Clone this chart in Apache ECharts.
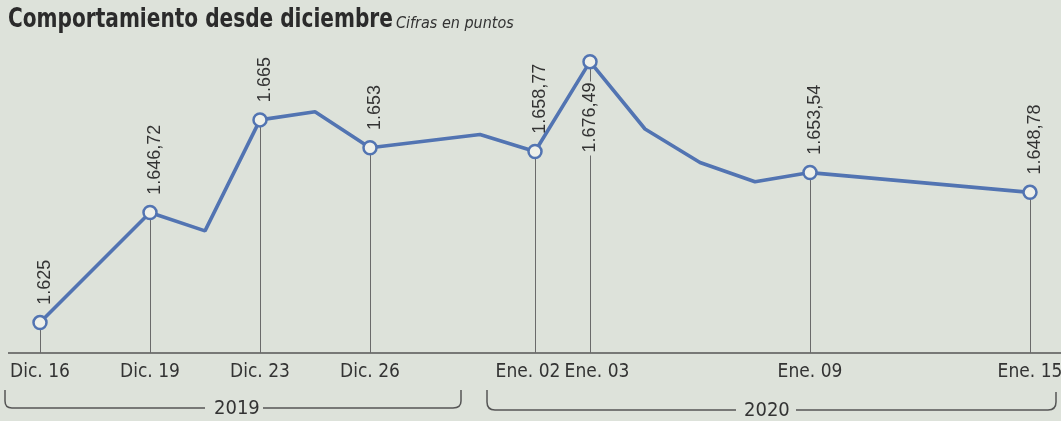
<!DOCTYPE html>
<html>
<head>
<meta charset="utf-8">
<script src="https://cdn.jsdelivr.net/npm/echarts@6/dist/echarts.min.js"></script>
<style>
html,body{margin:0;padding:0;background:#dde2da;}
#c{width:1061px;height:421px;}
</style>
</head>
<body>
<div id="c"></div>
<script>
// Trading-day slots (only some are labelled on the axis)
const categories = ['Dic. 16','Dic. 18','Dic. 19','Dic. 20','Dic. 23','Dic. 24','Dic. 26','Dic. 27','Dic. 30',
  'Ene. 02','Ene. 03','Ene. 06','Ene. 07','Ene. 08','Ene. 09','Ene. 10','Ene. 13','Ene. 14','Ene. 15'];
const axisTickLabels = ['Dic. 16','Dic. 19','Dic. 23','Dic. 26','Ene. 02','Ene. 03','Ene. 09','Ene. 15'];
// Plotted values (points), null where the chart shows no distinct point
const values = [1.625, null, 1.64672, 1.6431, 1.665, 1.6666, 1.6595, null, 1.6621,
  1.65877, 1.67649, 1.6632, 1.6566, 1.6528, 1.6546, null, null, null, 1.6507];
// Printed value labels
const pointLabels = ['1.625', '', '1.646,72', '', '1.665', '', '1.653', '', '',
  '1.658,77', '1.676,49', '', '', '', '1.653,54', '', '', '', '1.648,78'];
const years = ['2019', '2020'];
const titleText = 'Comportamiento desde diciembre';
const subtitleText = 'Cifras en puntos';

const BG = '#dde2da';
const BLUE = '#5274b2';
const TXT = '#333333';
const NARROW = "'Liberation Sans Narrow','DejaVu Sans Condensed','Arial Narrow',sans-serif";
const YMIN = 1.619, YMAX = 1.678;

const seriesData = values.map((v, i) => {
  const lab = pointLabels[i];
  const item = { value: v };
  if (!lab) { item.symbol = 'none'; item.label = { show: false }; }
  else if (lab === '1.676,49') {
    item.label = { show: true, formatter: lab, position: 'bottom', rotate: 90, align: 'right',
      verticalAlign: 'middle', distance: 12, offset: [0, 0], backgroundColor: BG, padding: [0, 1, 0, 3] };
  } else {
    item.label = { show: true, formatter: lab };
  }
  return item;
});

const dropLines = [];
values.forEach((v, i) => {
  if (pointLabels[i] && v != null) {
    dropLines.push([{ coord: [i, v] }, { coord: [i, YMIN] }]);
  }
});

const LS = { stroke: '#555', lineWidth: 1.5 };
function seg(x1, y1, x2, y2) { return { type: 'line', silent: true, shape: { x1, y1, x2, y2 }, style: LS }; }
function curve(x1, y1, cx, cy, x2, y2) {
  return { type: 'bezierCurve', silent: true, shape: { x1, y1, x2, y2, cpx1: cx, cpy1: cy }, style: Object.assign({ fill: null }, LS) };
}

const chart = echarts.init(document.getElementById('c'), null, { renderer: 'canvas' });
chart.setOption({
  backgroundColor: BG,
  animation: false,
  grid: { left: 40, right: 31, top: 54, bottom: 68, containLabel: false, outerBoundsMode: 'none' },
  xAxis: {
    type: 'category', data: categories, boundaryGap: false,
    axisLine: { show: false }, axisTick: { show: false }, splitLine: { show: false },
    axisLabel: {
      interval: (idx, val) => axisTickLabels.indexOf(val) >= 0,
      hideOverlap: false,
      formatter: (val) => val === 'Ene. 02' ? '{l|' + val + '}' : (val === 'Ene. 03' ? '{r|' + val + '}' : val),
      rich: {
        l: { fontFamily: NARROW, fontSize: 19, color: TXT, padding: [0, 14, 0, 0] },
        r: { fontFamily: NARROW, fontSize: 19, color: TXT, padding: [0, 0, 0, 14] }
      },
      fontFamily: NARROW, fontSize: 19, color: TXT, margin: 10
    }
  },
  yAxis: {
    type: 'value', min: YMIN, max: YMAX, show: false, splitLine: { show: false }
  },
  series: [{
    type: 'line', data: seriesData, connectNulls: true,
    symbol: 'circle', symbolSize: 13,
    lineStyle: { color: BLUE, width: 3.6 },
    itemStyle: { color: '#eef0ea', borderColor: BLUE, borderWidth: 2.5 },
    label: {
      show: true, position: 'top', rotate: 90, align: 'left', verticalAlign: 'middle',
      distance: 10, offset: [0, 5],
      fontFamily: "'Liberation Sans',Arial,sans-serif", fontSize: 18, color: TXT
    },
    markLine: {
      silent: true, symbol: 'none', z: 1,
      lineStyle: { color: '#6a6a6a', width: 1, type: 'solid' },
      label: { show: false },
      data: dropLines
    },
    z: 5
  }],
  graphic: [
    { type: 'text', x: 8, y: 7, scaleX: 0.86, style: { text: titleText, font: "bold 26px " + NARROW, fill: '#2b2b2b' } },
    { type: 'text', x: 396, y: 16, style: { text: subtitleText, font: "italic 16px " + NARROW, fill: '#333' } },
    seg(8, 353, 1061, 353),
    seg(5, 390, 5, 401), curve(5, 401, 5, 408, 12, 408), seg(12, 408, 205, 408), seg(263, 408, 453, 408),
    curve(453, 408, 461, 408, 461, 401), seg(461, 401, 461, 390),
    seg(487, 390, 487, 402), curve(487, 402, 487, 410, 495, 410), seg(495, 410, 736, 410), seg(796, 410, 1048, 410),
    curve(1048, 410, 1056, 410, 1056, 402), seg(1056, 402, 1056, 392),
    { type: 'text', x: 214, y: 399, style: { text: years[0], font: "20px " + NARROW, fill: TXT } },
    { type: 'text', x: 744, y: 401, style: { text: years[1], font: "20px " + NARROW, fill: TXT } }
  ]
});
</script>
</body>
</html>
